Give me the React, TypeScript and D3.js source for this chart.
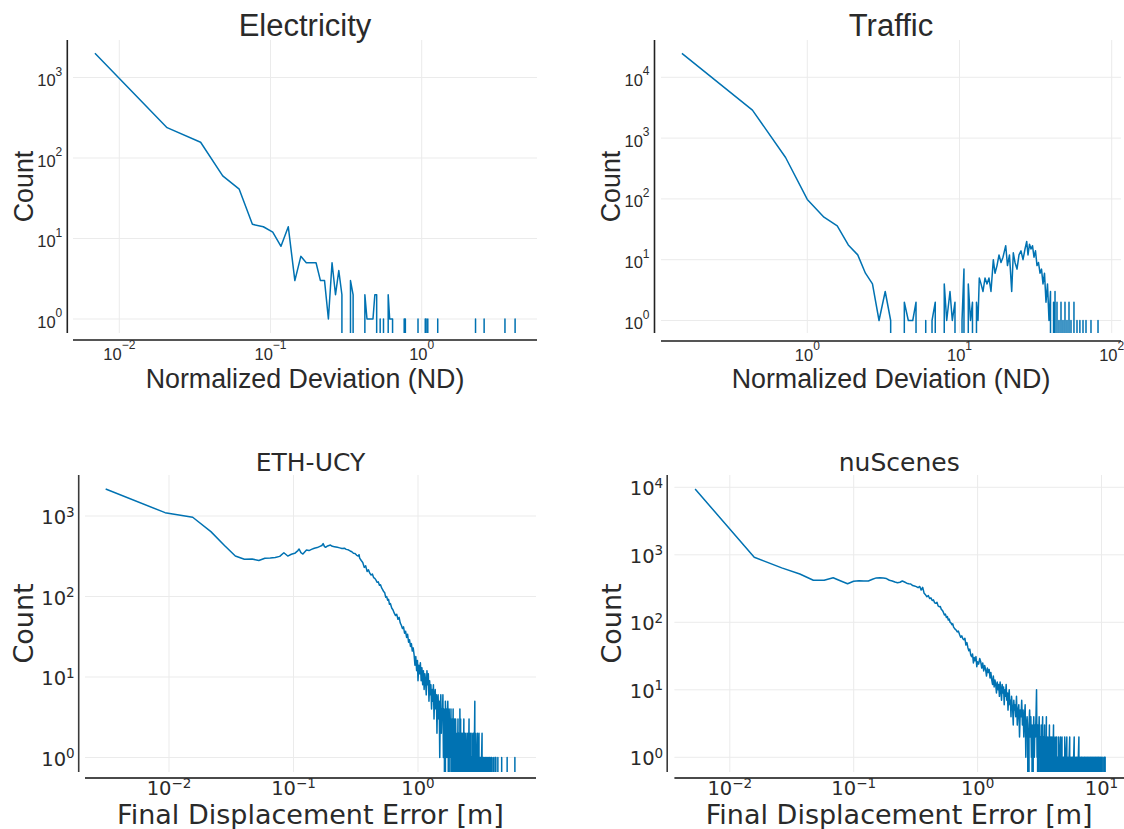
import React from "react";
import * as d3 from "d3";

type Pt = [number, number];

// histogram lines: [bin value, count], 0 = empty bin
const electricity: Pt[] = [
  [0.0069, 2000], [0.0207, 238], [0.0345, 157], [0.0483, 60], [0.0621, 41], [0.0759, 15],
  [0.0897, 14], [0.1035, 12], [0.1173, 8], [0.1311, 14], [0.1449, 3], [0.1587, 6],
  [0.1725, 5], [0.1863, 5], [0.2001, 5], [0.2139, 3], [0.2277, 3], [0.2415, 1],
  [0.2553, 5], [0.2691, 2], [0.2829, 4], [0.2967, 2], [0.3105, 0], [0.3243, 0],
  [0.3381, 3], [0.3519, 2], [0.3657, 0], [0.4071, 0], [0.4209, 2], [0.4347, 1],
  [0.4485, 1], [0.4623, 1], [0.4761, 1], [0.4899, 2], [0.5037, 2], [0.5175, 0],
  [0.5313, 1], [0.5451, 0], [0.5589, 1], [0.5727, 0], [0.5865, 0], [0.6003, 2],
  [0.6141, 1], [0.6279, 1], [0.6417, 1], [0.6555, 0], [0.7521, 0], [0.7659, 1],
  [0.7797, 1], [0.7935, 0], [0.9315, 0], [0.9453, 1], [0.9591, 0], [1.0419, 0],
  [1.0557, 1], [1.0695, 1], [1.0833, 0], [1.0971, 1], [1.1109, 0], [1.2627, 0],
  [1.2765, 1], [1.2903, 0], [2.2563, 0], [2.2701, 1], [2.2839, 0], [2.5737, 0],
  [2.5875, 1], [2.6013, 0], [3.5397, 0], [3.5535, 1], [3.5673, 0], [4.1331, 0],
  [4.1469, 1], [4.1607, 0],
];

const traffic: Pt[] = [
  [0.15, 24800], [0.436, 2890], [0.72, 480], [1.0, 98], [1.287, 50], [1.573, 36],
  [1.859, 17.5], [2.145, 12], [2.41, 6], [2.68, 4], [2.96, 1], [3.25, 3], [3.53, 1],
  [3.83, 0], [4.06, 0], [4.34, 2], [4.61, 1], [4.93, 1], [5.18, 2], [5.5, 0], [5.67, 0],
  [6.0, 1], [6.3, 0], [6.6, 1], [6.93, 2], [7.28, 0], [7.64, 0], [7.94, 4], [8.24, 1],
  [8.66, 3], [8.97, 1], [9.34, 2], [9.67, 0], [10.08, 0], [10.39, 1], [10.7, 7],
  [11.03, 0], [11.42, 4], [11.81, 1], [12.17, 2], [12.55, 0], [12.93, 2], [13.23, 1],
  [13.49, 5], [13.85, 4], [14.27, 3], [14.71, 5], [15.16, 4], [15.62, 5], [16.1, 3],
  [16.68, 10], [17.11, 6], [17.64, 8], [18.18, 12], [18.74, 9], [19.31, 11], [20.12, 17],
  [20.67, 8], [21.3, 12], [22.03, 3], [22.57, 13], [23.16, 9], [23.87, 7], [24.6, 12],
  [25.36, 14], [26.14, 10], [26.94, 15], [27.64, 20], [28.19, 12], [28.84, 18], [29.5, 15],
  [30.17, 17], [30.87, 11], [31.57, 14], [32.3, 8], [33.04, 9], [33.8, 6], [34.58, 7],
  [35.37, 4], [36.18, 6], [37.01, 2], [37.86, 4], [38.73, 1], [39.62, 3], [40.54, 0],
  [41.5, 2], [41.8, 0], [42.42, 3], [43.05, 0], [43.71, 2], [44.38, 0], [45.05, 1],
  [45.7, 0], [46.44, 2], [47.14, 0], [47.86, 1], [48.6, 0], [49.33, 2], [50.1, 0],
  [50.85, 1], [51.63, 0], [52.42, 2], [53.2, 0], [54.02, 1], [55.26, 0], [56.5, 2],
  [57.84, 0], [59.16, 1], [60.52, 0], [61.8, 1], [63.3, 0], [64.78, 1], [66.27, 0],
  [67.79, 1], [69.34, 0], [71.9, 0], [73.1, 1], [74.2, 0], [80.1, 0], [81.3, 1], [82.5, 0],
];

const ethUcy: Pt[] = [
  [0.0031, 2165], [0.0093, 1100], [0.0155, 964], [0.0217, 640], [0.0279, 430], [0.0341, 318],
  [0.0403, 290], [0.0465, 292], [0.0527, 280], [0.0589, 298], [0.0651, 300], [0.0713, 305],
  [0.0775, 315], [0.0837, 350], [0.0899, 318], [0.0961, 335], [0.1023, 344], [0.1085, 372],
  [0.1109, 389], [0.1147, 350], [0.119, 337], [0.1271, 378], [0.1333, 372], [0.1395, 385],
  [0.147, 398], [0.155, 405], [0.163, 420], [0.169, 430], [0.173, 455], [0.177, 420],
  [0.181, 408], [0.188, 425], [0.198, 436], [0.205, 420], [0.213, 415], [0.225, 408],
  [0.235, 402], [0.245, 395], [0.2565, 398], [0.265, 385], [0.275, 380], [0.285, 368],
  [0.294, 360], [0.303, 345], [0.312, 342], [0.322, 325], [0.331, 318], [0.336, 330],
  [0.34, 300], [0.35, 280], [0.36, 265], [0.37, 230], [0.38, 240], [0.39, 205], [0.4, 215],
  [0.41, 195], [0.42, 185], [0.43, 190], [0.44, 172], [0.45, 168], [0.46, 160], [0.47, 150],
  [0.48, 152], [0.49, 138], [0.5, 140], [0.51, 128], [0.52, 122], [0.53, 115], [0.54, 112],
  [0.55, 98], [0.56, 100], [0.57, 90], [0.58, 92], [0.59, 80], [0.6, 82], [0.615, 72],
  [0.63, 68], [0.645, 62], [0.66, 58], [0.675, 60], [0.69, 52], [0.705, 55], [0.72, 47],
  [0.735, 44], [0.75, 40], [0.765, 42], [0.78, 35], [0.795, 37], [0.81, 31], [0.825, 34],
  [0.84, 27], [0.855, 29], [0.87, 24], [0.885, 26], [0.9, 21], [0.915, 23], [0.93, 19],
  [0.945, 14], [0.96, 18], [0.975, 12], [0.99, 16], [1.0, 9], [1.015, 14], [1.03, 11],
  [1.045, 15], [1.06, 9], [1.075, 13], [1.09, 8], [1.105, 12], [1.12, 7], [1.135, 11],
  [1.15, 9], [1.165, 6], [1.18, 12], [1.195, 8], [1.21, 11], [1.225, 5], [1.24, 9],
  [1.255, 6], [1.27, 8], [1.285, 4], [1.3, 7], [1.315, 5], [1.33, 8], [1.345, 3],
  [1.36, 6], [1.375, 7], [1.39, 4], [1.405, 6], [1.42, 2], [1.435, 5], [1.45, 6],
  [1.465, 3], [1.48, 5], [1.495, 1], [1.51, 4], [1.525, 6], [1.54, 2], [1.555, 4],
  [1.57, 3], [1.585, 6], [1.6, 1], [1.615, 4], [1.63, 3], [1.645, 0], [1.66, 5],
  [1.675, 2], [1.69, 4], [1.705, 1], [1.72, 3], [1.735, 5], [1.75, 2], [1.765, 0],
  [1.78, 4], [1.795, 2], [1.81, 3], [1.825, 1], [1.84, 4], [1.855, 0], [1.87, 2],
  [1.885, 3], [1.9, 1], [1.915, 4], [1.93, 0], [1.945, 2], [1.96, 3], [1.975, 1],
  [1.99, 0], [2.005, 3], [2.02, 1], [2.035, 2], [2.05, 0], [2.065, 2], [2.08, 1],
  [2.095, 3], [2.11, 0], [2.125, 2], [2.14, 1], [2.155, 0], [2.17, 4], [2.185, 1],
  [2.2, 3], [2.215, 0], [2.23, 1], [2.245, 2], [2.26, 0], [2.275, 1], [2.29, 2],
  [2.305, 0], [2.32, 1], [2.335, 3], [2.35, 0], [2.37, 2], [2.39, 1], [2.41, 0],
  [2.43, 2], [2.45, 1], [2.47, 0], [2.49, 1], [2.51, 2], [2.53, 0], [2.55, 1], [2.57, 3],
  [2.59, 0], [2.61, 1], [2.63, 2], [2.65, 0], [2.67, 1], [2.69, 0], [2.71, 2], [2.73, 1],
  [2.75, 0], [2.77, 1], [2.79, 2], [2.81, 0], [2.83, 1], [2.86, 5], [2.88, 0], [2.9, 2],
  [2.92, 1], [2.95, 0], [2.98, 1], [3.0, 2], [3.03, 0], [3.06, 1], [3.09, 2], [3.12, 0],
  [3.15, 1], [3.18, 1], [3.21, 0], [3.24, 1], [3.27, 2], [3.3, 0], [3.33, 1], [3.36, 1],
  [3.4, 0], [3.44, 1], [3.48, 1], [3.52, 0], [3.56, 1], [3.6, 1], [3.65, 0], [3.7, 1],
  [3.75, 1], [3.8, 0], [3.85, 1], [3.9, 1], [3.96, 0], [4.02, 1], [4.08, 0], [4.15, 1],
  [4.22, 1], [4.3, 0], [4.38, 1], [4.46, 0], [4.62, 0], [4.7, 1], [4.78, 0], [5.1, 0],
  [5.2, 1], [5.3, 0], [5.9, 0], [6.0, 1], [6.1, 0],
];

const nuScenes: Pt[] = [
  [0.00525, 9440], [0.01575, 918], [0.02625, 640], [0.03675, 520], [0.04725, 420],
  [0.05775, 420], [0.06825, 458], [0.07875, 410], [0.08925, 372], [0.09975, 405],
  [0.11025, 412], [0.12075, 408], [0.13125, 410], [0.14175, 435], [0.15225, 455],
  [0.16275, 458], [0.17325, 452], [0.18375, 445], [0.19425, 420], [0.20475, 410],
  [0.21525, 395], [0.22575, 386], [0.23625, 392], [0.24675, 409], [0.25725, 395],
  [0.26775, 380], [0.27825, 372], [0.28875, 369], [0.29925, 350], [0.30975, 345],
  [0.32025, 338], [0.33075, 326], [0.34125, 340], [0.35, 300], [0.36, 330], [0.37, 270],
  [0.38, 255], [0.39, 239], [0.4, 250], [0.41, 225], [0.42, 230], [0.43, 210], [0.44, 215],
  [0.45, 195], [0.46, 191], [0.47, 198], [0.48, 175], [0.49, 170], [0.5, 172], [0.51, 155],
  [0.52, 150], [0.53, 140], [0.54, 128], [0.55, 132], [0.56, 118], [0.57, 122], [0.58, 108],
  [0.59, 112], [0.6, 100], [0.61, 98], [0.62, 92], [0.63, 95], [0.64, 85], [0.655, 80],
  [0.67, 77], [0.685, 72], [0.7, 74], [0.715, 66], [0.73, 60], [0.745, 63], [0.76, 57],
  [0.775, 55], [0.79, 58], [0.805, 46], [0.82, 50], [0.835, 42], [0.85, 38], [0.865, 40],
  [0.88, 33], [0.895, 31], [0.91, 34], [0.925, 25], [0.94, 30], [0.955, 27], [0.97, 31],
  [0.985, 22], [1.0, 26], [1.02, 24], [1.04, 29], [1.06, 26], [1.08, 21], [1.1, 25],
  [1.12, 19], [1.14, 23], [1.16, 20], [1.18, 16], [1.2, 21], [1.22, 18], [1.24, 20],
  [1.26, 15], [1.28, 18], [1.3, 14], [1.32, 12], [1.34, 16], [1.36, 11], [1.38, 14],
  [1.4, 12], [1.42, 9], [1.44, 13], [1.46, 10], [1.48, 12], [1.5, 8], [1.52, 13], [1.54, 10],
  [1.56, 7], [1.58, 12], [1.6, 9], [1.62, 11], [1.64, 6], [1.66, 10], [1.68, 8], [1.7, 12],
  [1.72, 7], [1.74, 9], [1.76, 5], [1.78, 8], [1.8, 10], [1.82, 6], [1.84, 7], [1.86, 4],
  [1.88, 8], [1.9, 6], [1.92, 5], [1.94, 3], [1.96, 7], [1.98, 5], [2.0, 6], [2.03, 4],
  [2.06, 8], [2.09, 3], [2.12, 5], [2.15, 6], [2.18, 2], [2.21, 5], [2.24, 4], [2.27, 7],
  [2.3, 3], [2.33, 5], [2.36, 2], [2.39, 4], [2.42, 6], [2.45, 1], [2.48, 3], [2.51, 4],
  [2.54, 2], [2.57, 0], [2.6, 3], [2.63, 5], [2.66, 2], [2.69, 4], [2.72, 1], [2.75, 3],
  [2.78, 0], [2.81, 2], [2.84, 4], [2.87, 1], [2.9, 3], [2.93, 2], [2.96, 4], [2.99, 10],
  [3.02, 1], [3.05, 3], [3.08, 0], [3.11, 2], [3.14, 4], [3.17, 1], [3.2, 2], [3.23, 0],
  [3.26, 3], [3.29, 1], [3.32, 2], [3.35, 4], [3.38, 0], [3.41, 2], [3.44, 1], [3.47, 3],
  [3.5, 0], [3.53, 2], [3.56, 1], [3.59, 4], [3.62, 0], [3.65, 2], [3.68, 1], [3.71, 0],
  [3.74, 2], [3.77, 1], [3.8, 3], [3.83, 0], [3.86, 1], [3.89, 2], [3.92, 0], [3.95, 1],
  [3.98, 2], [4.02, 0], [4.06, 1], [4.1, 3], [4.14, 0], [4.18, 1], [4.22, 2], [4.26, 0],
  [4.3, 1], [4.34, 2], [4.38, 0], [4.42, 1], [4.46, 0], [4.5, 2], [4.54, 1], [4.58, 0],
  [4.62, 1], [4.66, 2], [4.7, 0], [4.75, 1], [4.8, 2], [4.85, 0], [4.9, 1], [4.95, 1],
  [5.0, 0], [5.05, 2], [5.1, 1], [5.15, 0], [5.2, 1], [5.25, 2], [5.3, 0], [5.36, 1],
  [5.42, 0], [5.48, 1], [5.54, 2], [5.6, 0], [5.66, 1], [5.72, 0], [5.78, 1], [5.84, 1],
  [5.9, 0], [5.96, 1], [6.02, 2], [6.08, 0], [6.15, 1], [6.22, 0], [6.29, 1], [6.36, 1],
  [6.43, 0], [6.5, 1], [6.57, 2], [6.64, 0], [6.71, 1], [6.78, 0], [6.85, 1], [6.92, 1],
  [6.99, 0], [7.06, 1], [7.14, 0], [7.22, 1], [7.3, 1], [7.38, 0], [7.46, 1], [7.54, 0],
  [7.62, 1], [7.7, 1], [7.78, 0], [7.86, 1], [7.95, 0], [8.04, 1], [8.13, 1], [8.22, 0],
  [8.31, 1], [8.4, 0], [8.49, 1], [8.58, 1], [8.67, 0], [8.76, 1], [8.86, 0], [8.96, 1],
  [9.06, 1], [9.16, 0], [9.26, 1], [9.36, 0], [9.46, 1], [9.56, 1], [9.66, 0], [9.76, 1],
  [9.86, 0], [9.96, 1], [10.1, 0], [10.25, 1], [10.4, 0], [10.55, 1], [10.7, 1], [10.85, 0],
];

// decade exponents shown as tick labels
const elecXTicks = [-2, -1, 0];
const elecYTicks = [0, 1, 2, 3];
const trafficXTicks = [0, 1, 2];
const trafficYTicks = [0, 1, 2, 3, 4];
const ethXTicks = [-2, -1, 0];
const ethYTicks = [0, 1, 2, 3];
const nuXTicks = [-2, -1, 0, 1];
const nuYTicks = [0, 1, 2, 3, 4];

const titles = ["Electricity", "Traffic", "ETH-UCY", "nuScenes"];
const xTitles = ["Normalized Deviation (ND)", "Final Displacement Error [m]"];
const yTitle = "Count";

const BLUE = "#0072b2";
const GRID = "#ebebeb";
const INK = "#2a2a2a";

interface Style {
  font: string;
  tick: number;
  sup: number;
  yBase: number;
  ySupDy: number;
  xBase: number;
  xSupDy: number;
  gap: number;
  title: number;
  titleY: number;
  axisTitle: number;
  xTitleY: number;
  yAxisColor: string;
  xAxisColor: string;
}

const topStyle: Style = {
  font: "'Liberation Sans', Arial, sans-serif",
  tick: 16.5, sup: 12, yBase: 8.5, ySupDy: -10.5, xBase: 19.5, xSupDy: -11, gap: 5,
  title: 31, titleY: 36, axisTitle: 26.8, xTitleY: 387.5,
  yAxisColor: "#222", xAxisColor: "#555",
};

const bottomStyle: Style = {
  font: "'DejaVu Sans', sans-serif",
  tick: 19.5, sup: 13.5, yBase: 8, ySupDy: -7.5, xBase: 16.5, xSupDy: -7, gap: 4,
  title: 25, titleY: 471, axisTitle: 27, xTitleY: 824,
  yAxisColor: "#3a3a3a", xAxisColor: "#4a4a4a",
};

interface Spec {
  id: string;
  data: Pt[];
  title: string;
  xTitle: string;
  xTicks: number[];
  yTicks: number[];
  xDom: [number, number];
  xRng: [number, number];
  yDom: [number, number];
  yRng: [number, number];
  left: number;
  right: number;
  top: number;
  bottom: number;
  yAxisX: number;
  xAxisY: number;
  yTitleX: number;
  st: Style;
}

const panels: Spec[] = [
  {
    id: "elec", data: electricity, title: titles[0], xTitle: xTitles[0],
    xTicks: elecXTicks, yTicks: elecYTicks,
    xDom: [1e-2, 1], xRng: [119.3, 421.7], yDom: [1, 1e3], yRng: [319, 77.5],
    left: 73, right: 537, top: 40, bottom: 333, yAxisX: 67.3, xAxisY: 340, yTitleX: 33,
    st: topStyle,
  },
  {
    id: "traffic", data: traffic, title: titles[1], xTitle: xTitles[0],
    xTicks: trafficXTicks, yTicks: trafficYTicks,
    xDom: [1, 100], xRng: [807.3, 1111.7], yDom: [1, 1e4], yRng: [320.5, 77.3],
    left: 661, right: 1121, top: 40, bottom: 333, yAxisX: 654.5, xAxisY: 341, yTitleX: 620,
    st: topStyle,
  },
  {
    id: "eth", data: ethUcy, title: titles[2], xTitle: xTitles[1],
    xTicks: ethXTicks, yTicks: ethYTicks,
    xDom: [1e-2, 1], xRng: [169, 418], yDom: [1, 1e3], yRng: [757.5, 516],
    left: 85, right: 536, top: 475, bottom: 772, yAxisX: 78.7, xAxisY: 778, yTitleX: 33,
    st: bottomStyle,
  },
  {
    id: "nu", data: nuScenes, title: titles[3], xTitle: xTitles[1],
    xTicks: nuXTicks, yTicks: nuYTicks,
    xDom: [1e-2, 10], xRng: [729.8, 1101.5], yDom: [1, 1e4], yRng: [757.3, 487.3],
    left: 674.4, right: 1124, top: 475, bottom: 772, yAxisX: 667.2, xAxisY: 778, yTitleX: 621,
    st: bottomStyle,
  },
];

const expText = (e: number) => (e < 0 ? "\u2212" + -e : String(e));

function Panel({ s }: { s: Spec }) {
  const st = s.st;
  const x = d3.scaleLog().domain(s.xDom).range(s.xRng);
  const y = d3.scaleLog().domain(s.yDom).range(s.yRng);
  // empty bins drop far below the frame, like the original's log axis
  const line = d3
    .line<Pt>()
    .x((d) => x(d[0]))
    .y((d) => (d[1] > 0 ? y(d[1]) : s.bottom + 40000));
  const clip = "clip-" + s.id;
  const cx = (s.left + s.right) / 2;
  const cy = (s.top + s.bottom) / 2;

  return (
    <g fontFamily={st.font} fill={INK}>
      <defs>
        <clipPath id={clip}>
          <rect x={s.left} y={s.top} width={s.right - s.left} height={s.bottom - s.top} />
        </clipPath>
      </defs>

      {s.xTicks.map((e) => (
        <line key={"gx" + e} x1={x(10 ** e)} x2={x(10 ** e)} y1={s.top} y2={s.bottom} stroke={GRID} strokeWidth={1} />
      ))}
      {s.yTicks.map((e) => (
        <line key={"gy" + e} x1={s.left} x2={s.right} y1={y(10 ** e)} y2={y(10 ** e)} stroke={GRID} strokeWidth={1} />
      ))}

      <path
        d={line(s.data) || ""}
        clipPath={`url(#${clip})`}
        fill="none"
        stroke={BLUE}
        strokeWidth={1.5}
        strokeLinejoin="round"
      />

      <line x1={s.yAxisX} x2={s.yAxisX} y1={s.top} y2={s.bottom} stroke={st.yAxisColor} strokeWidth={1.6} />
      <line x1={s.left} x2={s.right} y1={s.xAxisY} y2={s.xAxisY} stroke={st.xAxisColor} strokeWidth={2} />

      {s.yTicks.map((e) => (
        <text key={"ty" + e} x={s.yAxisX - st.gap} y={y(10 ** e) + st.yBase} textAnchor="end" fontSize={st.tick}>
          <tspan>10</tspan>
          <tspan dy={st.ySupDy} fontSize={st.sup}>{expText(e)}</tspan>
        </text>
      ))}
      {s.xTicks.map((e) => (
        <text key={"tx" + e} x={x(10 ** e)} y={s.xAxisY + st.xBase} textAnchor="middle" fontSize={st.tick}>
          <tspan>10</tspan>
          <tspan dy={st.xSupDy} fontSize={st.sup}>{expText(e)}</tspan>
        </text>
      ))}

      <text x={cx} y={st.titleY} textAnchor="middle" fontSize={st.title}>{s.title}</text>
      <text x={cx} y={st.xTitleY} textAnchor="middle" fontSize={st.axisTitle}>{s.xTitle}</text>
      <text
        transform={`translate(${s.yTitleX},${cy}) rotate(-90)`}
        textAnchor="middle"
        fontSize={st.axisTitle}
      >
        {yTitle}
      </text>
    </g>
  );
}

export default function App() {
  return (
    <div>
      <style>{"body{margin:0;background:#fff}"}</style>
      <svg width={1124} height={829} style={{ display: "block", background: "#fff" }}>
        {panels.map((p) => (
          <Panel key={p.id} s={p} />
        ))}
      </svg>
    </div>
  );
}
